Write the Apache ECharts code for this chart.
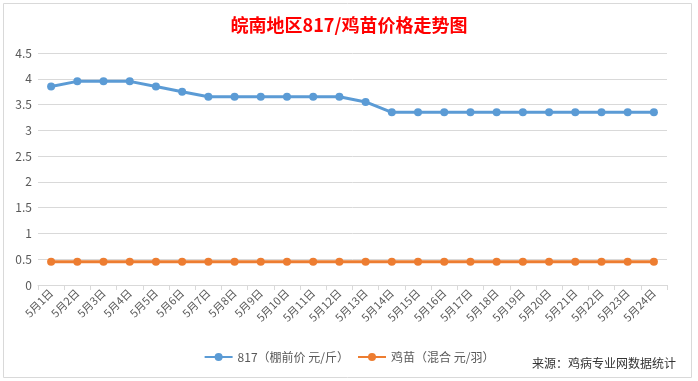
<!DOCTYPE html>
<html><head><meta charset="utf-8">
<script src="https://cdn.jsdelivr.net/npm/echarts@6/dist/echarts.min.js"></script>
<style>html,body{margin:0;padding:0;background:#fff}#c{width:698px;height:381px}</style>
</head><body><div id="c"></div>
<script>
const categories = ["5月1日","5月2日","5月3日","5月4日","5月5日","5月6日","5月7日","5月8日","5月9日","5月10日","5月11日","5月12日","5月13日","5月14日","5月15日","5月16日","5月17日","5月18日","5月19日","5月20日","5月21日","5月22日","5月23日","5月24日"];
const price817 = [3.85,3.95,3.95,3.95,3.85,3.75,3.65,3.65,3.65,3.65,3.65,3.65,3.55,3.35,3.35,3.35,3.35,3.35,3.35,3.35,3.35,3.35,3.35,3.35];
const chickPrice = [0.45,0.45,0.45,0.45,0.45,0.45,0.45,0.45,0.45,0.45,0.45,0.45,0.45,0.45,0.45,0.45,0.45,0.45,0.45,0.45,0.45,0.45,0.45,0.45];
const seriesNames = ["817（棚前价 元/斤）","鸡苗（混合 元/羽）"];
const titleText = "皖南地区817/鸡苗价格走势图";
const sourceText = "来源：鸡病专业网数据统计";

const font = "'Noto Sans CJK SC', 'Noto Sans', sans-serif";
const chart = echarts.init(document.getElementById('c'));
chart.setOption({
  animation: false,
  textStyle: {fontFamily: font},
  title: {text: titleText, left: 'center', top: 11,
    textStyle: {color: '#ff0000', fontSize: 18, fontWeight: 'bold', fontFamily: font}},
  grid: {left: 38, right: 31, top: 53, bottom: 96, containLabel: false},
  legend: {bottom: 13, left: 'center', itemWidth: 28, itemHeight: 10, itemGap: 8,
    textStyle: {color: '#595959', fontSize: 12, fontFamily: font},
    data: seriesNames},
  xAxis: {type: 'category', data: categories, boundaryGap: true,
    axisLine: {lineStyle: {color: '#d9d9d9'}},
    axisTick: {show: true, lineStyle: {color: '#d9d9d9'}, length: 5},
    axisLabel: {rotate: 45, interval: 0, color: '#595959', fontSize: 11, margin: 6}},
  yAxis: {type: 'value', min: 0, max: 4.5, interval: 0.5,
    axisLine: {show: false}, axisTick: {show: false},
    axisLabel: {color: '#595959', fontSize: 12, margin: 6},
    splitLine: {lineStyle: {color: '#d9d9d9'}}},
  series: [
    {name: seriesNames[0], type: 'line', data: price817, symbol: 'circle', symbolSize: 8,
      itemStyle: {color: '#5b9bd5'}, lineStyle: {width: 3, color: '#5b9bd5'}},
    {name: seriesNames[1], type: 'line', data: chickPrice, symbol: 'circle', symbolSize: 8,
      itemStyle: {color: '#ed7d31'}, lineStyle: {width: 3, color: '#ed7d31'}}
  ],
  graphic: [
    {type: 'rect', shape: {x: 3.5, y: 3.5, width: 688, height: 374}, style: {fill: 'none', stroke: '#d9d9d9', lineWidth: 1}, silent: true},
    {type: 'text', right: 22, bottom: 12, style: {text: sourceText, fill: '#333', fontSize: 12, fontFamily: font}}
  ]
});
</script></body></html>
